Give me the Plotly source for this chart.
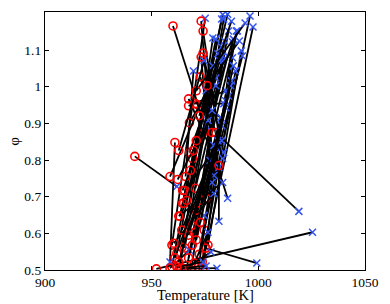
import plotly.graph_objects as go

# Each sample: start (red circle) -> end (blue x)
T_start = [959.5, 963.2, 964.5, 961.8, 965.5, 974.6, 975.5, 966.4, 972.3, 963.2,
           959.5, 970.0, 974.1, 964.1, 968.7, 970.5, 971.9, 976.4, 975.5, 969.1,
           967.7, 973.7, 965.9, 960.0, 973.2, 974.1, 974.1, 973.2, 972.8, 967.3,
           967.3, 970.5, 971.4, 967.7, 973.7, 978.3, 980.1, 952.2, 975.1, 942.1,
           960.9, 958.6, 962.2, 960.4, 962.7, 981.5, 965.0, 970.0, 965.5, 958.6,
           963.2, 964.1, 961.8, 965.5, 973.2, 970.9, 968.7, 967.3, 964.1, 960.9,
           962.7, 967.3, 969.1, 970.9, 972.8, 966.4, 964.5, 968.2, 969.6, 970.9,
           972.3, 970.9, 976.0, 962.7]
phi_start = [0.568, 0.647, 0.682, 0.546, 0.560, 0.609, 0.560, 0.503, 0.543, 0.505,
             0.508, 0.601, 0.505, 0.562, 0.505, 0.723, 0.508, 0.568, 0.696, 0.804,
             0.821, 0.522, 0.755, 1.166, 1.179, 1.152, 1.092, 1.081, 1.027, 0.967,
             0.948, 0.954, 0.951, 0.902, 0.872, 0.875, 0.875, 0.503, 0.560, 0.810,
             0.848, 0.755, 0.747, 0.573, 0.647, 0.785, 0.682, 0.519, 0.503, 0.505,
             0.503, 0.505, 0.508, 0.717, 0.690, 0.663, 0.622, 0.595, 0.609, 0.533,
             0.522, 0.533, 0.568, 0.582, 0.630, 0.690, 0.717, 0.772, 0.826, 0.853,
             0.921, 0.989, 1.003, 0.826]
T_end = [975.1, 983.3, 985.6, 982.8, 983.8, 996.1, 997.5, 986.0, 989.7, 978.7,
         980.1, 984.2, 987.9, 981.0, 983.3, 985.6, 987.9, 992.0, 992.5, 978.7,
         983.3, 989.3, 969.6, 985.6, 979.2, 982.4, 983.8, 978.3, 983.3, 981.5,
         984.7, 983.8, 982.4, 980.1, 988.3, 990.2, 1019.0, 1025.4, 999.3, 961.8,
         958.6, 975.5, 975.5, 979.2, 983.3, 981.5, 974.6, 976.4, 977.8, 967.7,
         980.6, 975.5, 974.1, 982.8, 984.7, 986.0, 987.4, 982.4, 981.0, 977.4,
         979.2, 982.8, 984.7, 987.0, 988.3, 978.3, 976.4, 980.1, 981.9, 982.8,
         987.4, 993.8, 991.1, 974.6]
phi_end = [1.187, 1.197, 1.198, 1.185, 1.185, 1.193, 1.163, 1.152, 1.152, 1.133,
           1.130, 1.125, 1.122, 1.090, 1.084, 1.084, 1.079, 1.098, 1.084, 1.057,
           1.071, 1.043, 1.043, 0.696, 0.758, 0.834, 0.821, 0.739, 0.804, 0.780,
           0.989, 0.954, 0.916, 1.024, 1.130, 1.152, 0.660, 0.603, 0.519, 0.728,
           0.522, 0.989, 0.894, 0.709, 0.739, 0.633, 0.649, 0.603, 0.549, 0.554,
           0.505, 0.511, 0.522, 0.853, 0.943, 0.975, 1.016, 0.916, 0.853, 0.799,
           0.840, 0.894, 0.962, 1.003, 1.057, 0.935, 0.908, 1.003, 1.071, 1.109,
           1.179, 1.174, 1.125, 1.071]

x_ticks = [900, 950, 1000, 1050]
y_ticks = [0.5, 0.6, 0.7, 0.8, 0.9, 1.0, 1.1]
y_tick_text = ["0.5", "0.6", "0.7", "0.8", "0.9", "1", "1.1"]

fig = go.Figure()
for i in range(len(T_start)):
    fig.add_trace(go.Scatter(x=[T_start[i], T_end[i]], y=[phi_start[i], phi_end[i]],
                             mode="lines", line=dict(color="black", width=1.8),
                             showlegend=False, hoverinfo="skip"))
    fig.add_trace(go.Scatter(x=[T_start[i]], y=[phi_start[i]], mode="markers",
                             marker=dict(symbol="circle-open", size=8, color="red",
                                         line=dict(width=1.6, color="red")),
                             showlegend=False))
    fig.add_trace(go.Scatter(x=[T_end[i]], y=[phi_end[i]], mode="markers",
                             marker=dict(symbol="x-thin", size=7, color="#3355ee",
                                         line=dict(width=1.5, color="#3355ee")),
                             showlegend=False))

serif = "Liberation Serif"
axis_common = dict(showline=True, linecolor="black", linewidth=1.3, mirror="allticks",
                   ticks="inside", ticklen=4, tickwidth=1, tickcolor="black",
                   showgrid=False, zeroline=False,
                   tickfont=dict(family=serif, size=13.5, color="black"))

fig.update_layout(
    width=390, height=304,
    margin=dict(l=45, r=17, t=11, b=34),
    paper_bgcolor="white", plot_bgcolor="white",
    xaxis=dict(range=[900, 1050], tickvals=x_ticks, ticktext=[str(v) for v in x_ticks],
               **axis_common),
    yaxis=dict(range=[0.5, 1.204], tickvals=y_ticks, ticktext=y_tick_text,
               **axis_common),
    annotations=[
        dict(text="Temperature [K]", x=0.5, y=-0.097, xref="paper", yref="paper",
             xanchor="center", yanchor="middle", showarrow=False,
             font=dict(family=serif, size=14.5, color="black")),
        dict(text="φ", x=-0.0976, y=0.5, xref="paper", yref="paper", textangle=-90,
             xanchor="center", yanchor="middle", showarrow=False,
             font=dict(family=serif, size=15, color="black")),
    ],
)
fig.write_html("out.html", post_script="document.body.style.margin='0';",
               config={"displayModeBar": False})
